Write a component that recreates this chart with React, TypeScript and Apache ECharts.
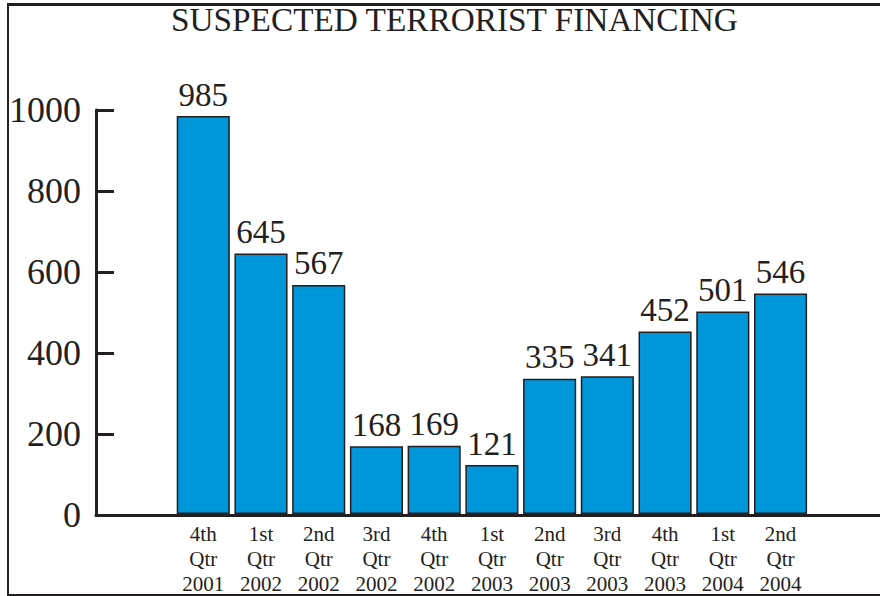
import React, { useEffect, useRef } from "react";
import * as echarts from "echarts";

const categories = [
  "4th\nQtr\n2001",
  "1st\nQtr\n2002",
  "2nd\nQtr\n2002",
  "3rd\nQtr\n2002",
  "4th\nQtr\n2002",
  "1st\nQtr\n2003",
  "2nd\nQtr\n2003",
  "3rd\nQtr\n2003",
  "4th\nQtr\n2003",
  "1st\nQtr\n2004",
  "2nd\nQtr\n2004",
];
const values = [985, 645, 567, 168, 169, 121, 335, 341, 452, 501, 546];
const yTicks = { min: 0, max: 1000, interval: 200 };
const title = "SUSPECTED TERRORIST FINANCING";

const FONT = "Liberation Serif";
const INK = "#231f20";

export default function App() {
  const ref = useRef<HTMLDivElement>(null);
  useEffect(() => {
    if (!ref.current) return;
    const chart = echarts.init(ref.current, null, { renderer: "svg" });
    chart.setOption({
      animation: false,
      backgroundColor: "#ffffff",
      textStyle: { fontFamily: FONT, color: INK },
      title: {
        text: title,
        left: 171,
        top: 3,
        padding: 0,
        textStyle: { fontFamily: FONT, fontSize: 33.3, fontWeight: "normal", color: INK },
      },
      graphic: [
        { type: "line", shape: { x1: 8, y1: 4, x2: 8, y2: 595 }, style: { stroke: INK, lineWidth: 2 } },
        { type: "line", shape: { x1: 7, y1: 4.5, x2: 880, y2: 4.5 }, style: { stroke: INK, lineWidth: 3 } },
        { type: "line", shape: { x1: 7, y1: 595, x2: 880, y2: 595 }, style: { stroke: INK, lineWidth: 2 } },
      ],
      grid: [
        { left: 96, right: 0, top: 110, bottom: 81, containLabel: false },
        { left: 174.4, width: 635, top: 110, bottom: 81, containLabel: false },
      ],
      xAxis: [
        {
          type: "value",
          gridIndex: 0,
          min: 0,
          max: 1,
          axisLine: { show: true, lineStyle: { color: INK, width: 3 } },
          axisTick: { show: false },
          axisLabel: { show: false },
          splitLine: { show: false },
        },
        {
          type: "category",
          gridIndex: 1,
          data: categories,
          axisLine: { show: false },
          axisTick: { show: false },
          axisLabel: {
            fontFamily: FONT,
            fontSize: 21,
            lineHeight: 25,
            color: INK,
            margin: 7,
            interval: 0,
            verticalAlign: "top",
          },
        },
      ],
      yAxis: [
        {
          type: "value",
          gridIndex: 0,
          min: yTicks.min,
          max: yTicks.max,
          interval: yTicks.interval,
          axisLine: { show: true, lineStyle: { color: INK, width: 3 } },
          axisTick: { show: true, inside: true, length: 18, lineStyle: { color: INK, width: 3 } },
          axisLabel: {
            fontFamily: FONT,
            fontSize: 36,
            color: INK,
            margin: 15,
            formatter: (v: number) => String(v),
          },
          splitLine: { show: false },
        },
        {
          type: "value",
          gridIndex: 1,
          min: yTicks.min,
          max: yTicks.max,
          interval: yTicks.interval,
          show: false,
          splitLine: { show: false },
        },
      ],
      series: [
        {
          type: "bar",
          xAxisIndex: 1,
          yAxisIndex: 1,
          data: values,
          barCategoryGap: "8%",
          itemStyle: { color: "#0096da", borderColor: INK, borderWidth: 1.5 },
          label: {
            show: true,
            position: "top",
            distance: 5,
            fontFamily: FONT,
            fontSize: 33,
            color: INK,
          },
        },
      ],
    });
    return () => chart.dispose();
  }, []);
  return (
    <div
      ref={ref}
      style={{ position: "fixed", left: 0, top: 0, width: 880, height: 596 }}
    />
  );
}
